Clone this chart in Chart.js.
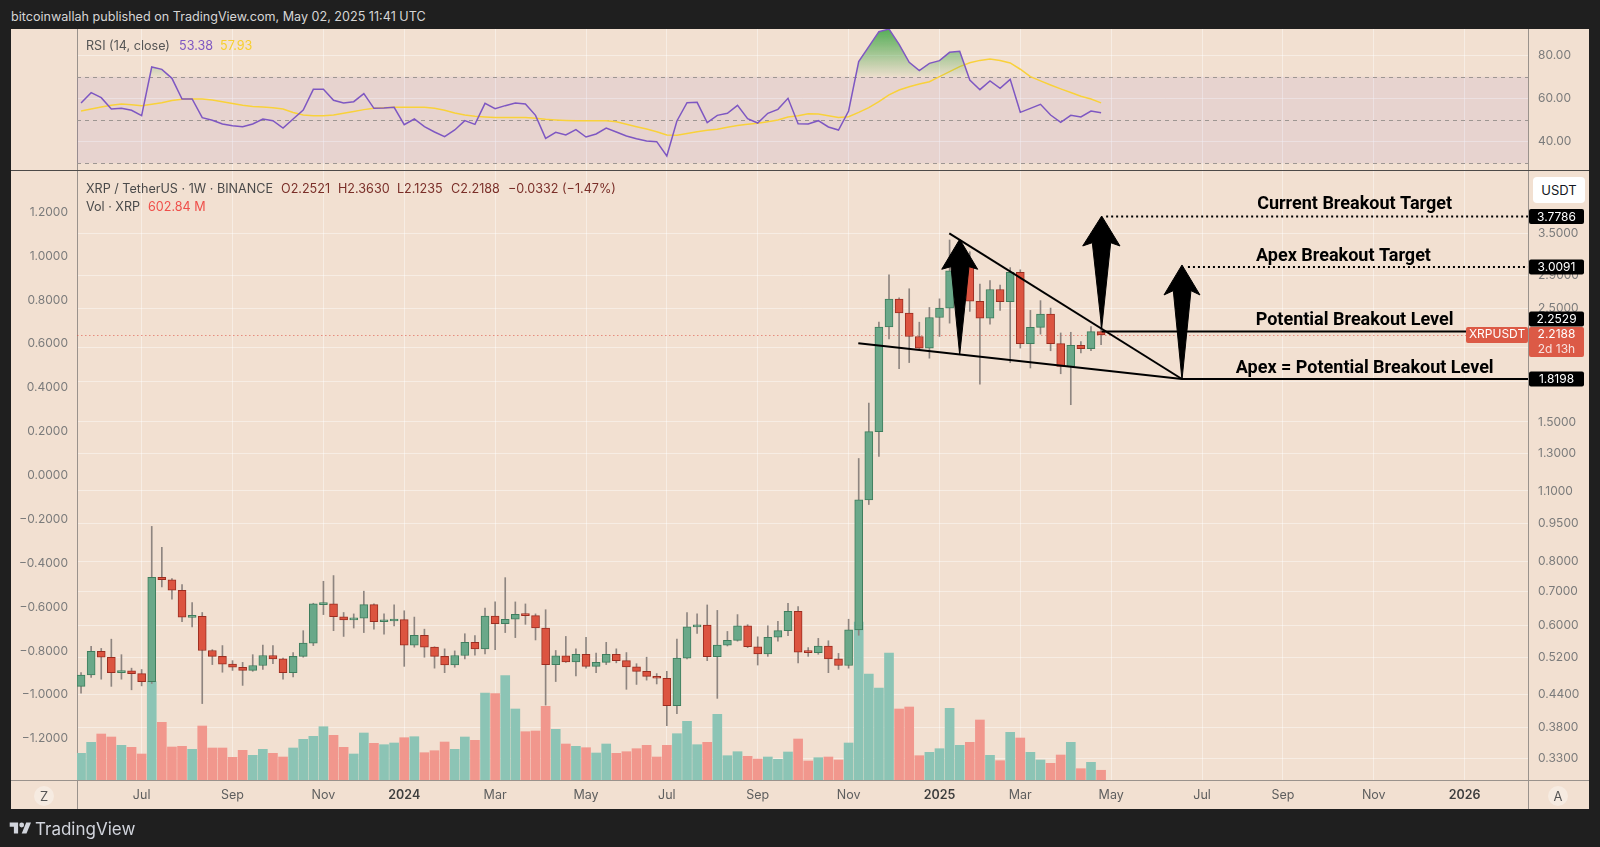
<!DOCTYPE html>
<html>
<head>
<meta charset="utf-8">
<title>XRP / TetherUS · 1W · BINANCE</title>
<script src="https://cdn.jsdelivr.net/npm/chart.js@4.4.1/dist/chart.umd.min.js"></script>
<style>
  html, body { margin:0; padding:0; }
  body { width:1600px; height:847px; background:#1f1f1f; position:relative; overflow:hidden;
         font-family: Inter, "Noto Sans", sans-serif; }
  .abs { position:absolute; white-space:nowrap; }
  #frame { left:11px; top:29px; width:1578px; height:780px; background:#f2e0d1; }
  #hdr { left:11px; top:9px; font-size:12.6px; line-height:16px; color:#d6d6d6; }
  canvas { position:absolute; }
  .leg { font-size:12.6px; line-height:16px; }
  .g { color:#4a4a4a; }
  .m { color:#7a2e28; }
  #sep { left:11px; top:170px; width:1578px; height:1px; background:#4d4a48; }
  .ln { background:#9a928c; }
  .btn { width:20px; height:20px; border-radius:50%; background:rgba(255,255,255,0.35);
         color:#555; font-size:13px; line-height:20px; text-align:center; }
  #usdt { left:1533px; top:177px; width:52px; height:26px; border-radius:4px; background:#fff;
          color:#131722; font-size:13px; line-height:26px; text-align:center; }
  #foot { left:35px; top:819px; font-size:17px; line-height:20px; color:#d1d4dc; }
</style>
</head>
<body>
<div id="hdr" class="abs">bitcoinwallah published on TradingView.com, May 02, 2025 11:41 UTC</div>
<div id="frame" class="abs"></div>
<canvas id="rsi" width="1578" height="141" style="left:11px;top:29px;width:1578px;height:141px"></canvas>
<div id="sep" class="abs"></div>
<canvas id="main" width="1578" height="638" style="left:11px;top:171px;width:1578px;height:638px"></canvas>

<div class="abs ln" style="left:11px;top:780px;width:1578px;height:1px"></div>
<div class="abs ln" style="left:77px;top:780px;width:1px;height:29px"></div>
<div class="abs ln" style="left:1528px;top:780px;width:1px;height:29px"></div>

<div class="abs leg" style="left:86px;top:38px;color:#555">RSI (14, close)</div>
<div class="abs leg" style="left:179px;top:38px;color:#7e57c2">53.38</div>
<div class="abs leg" style="left:220px;top:38px;color:#f7cf2f">57.93</div>

<div class="abs leg g" style="left:86px;top:181px">XRP / TetherUS · 1W · BINANCE</div>
<div class="abs leg m" style="left:281px;top:181px">O2.2521</div>
<div class="abs leg m" style="left:338px;top:181px">H2.3630</div>
<div class="abs leg m" style="left:397px;top:181px">L2.1235</div>
<div class="abs leg m" style="left:451px;top:181px">C2.2188</div>
<div class="abs leg m" style="left:508px;top:181px">−0.0332 (−1.47%)</div>
<div class="abs leg g" style="left:86px;top:199px">Vol · XRP</div>
<div class="abs leg" style="left:148px;top:199px;color:#ef4f4a">602.84 M</div>

<div id="usdt" class="abs">USDT</div>
<div class="abs btn" style="left:34px;top:786px">Z</div>
<div class="abs btn" style="left:1548px;top:786px">A</div>

<svg class="abs" style="left:9px;top:822px" width="23" height="12" viewBox="0 0 36 20">
  <path d="M14 19H7V8H0V1h14v18z" fill="#d1d4dc"/>
  <circle cx="20" cy="5" r="4" fill="#d1d4dc"/>
  <path d="M28 19h-8l7.5-18h8L28 19z" fill="#d1d4dc"/>
</svg>
<div id="foot" class="abs">TradingView</div>

<script>
// ---------------- data (weekly candles; week 0 = week of 3 Jul 2023) ----------------
const FIRST_WEEK = -6;
const OPEN = [0.457,0.481,0.535,0.521,0.486,0.490,0.484,0.467,0.746,0.738,
  0.704,0.623,0.626,0.537,0.523,0.505,0.498,0.491,0.502,0.525,
  0.517,0.486,0.523,0.555,0.660,0.662,0.625,0.616,0.621,0.660,
  0.611,0.613,0.617,0.550,0.575,0.545,0.523,0.503,0.525,0.557,
  0.541,0.627,0.606,0.618,0.632,0.628,0.594,0.504,0.524,0.510,
  0.528,0.500,0.509,0.528,0.513,0.499,0.489,0.478,0.474,0.419,
  0.519,0.597,0.602,0.522,0.550,0.562,0.600,0.546,0.529,0.570,
  0.587,0.640,0.533,0.532,0.548,0.517,0.502,0.589,1.057,1.436,
  2.299,2.605,2.448,2.203,2.091,2.399,2.503,2.960,3.018,2.581,
  2.392,2.721,2.577,2.938,2.134,2.295,2.436,2.134,1.925,2.116,
  2.085,2.2521];
const HIGH = [0.486,0.547,0.542,0.565,0.527,0.496,0.493,0.938,0.854,0.742,
  0.722,0.666,0.637,0.539,0.549,0.513,0.509,0.527,0.550,0.549,
  0.519,0.532,0.587,0.664,0.733,0.752,0.637,0.633,0.701,0.662,
  0.633,0.659,0.642,0.624,0.591,0.546,0.541,0.536,0.579,0.574,
  0.650,0.668,0.745,0.668,0.662,0.633,0.645,0.537,0.572,0.541,
  0.570,0.531,0.557,0.541,0.532,0.506,0.521,0.484,0.489,0.565,
  0.637,0.633,0.659,0.643,0.585,0.631,0.603,0.571,0.600,0.612,
  0.664,0.654,0.544,0.567,0.561,0.530,0.618,1.273,1.633,2.349,
  2.907,2.620,2.730,2.349,2.510,2.609,3.399,3.399,3.224,2.789,
  2.831,2.775,3.002,2.973,2.477,2.588,2.503,2.238,2.245,2.154,
  2.304,2.3630];
const LOW = [0.443,0.476,0.472,0.457,0.472,0.450,0.458,0.463,0.715,0.676,
  0.611,0.597,0.423,0.504,0.487,0.491,0.459,0.489,0.493,0.506,
  0.472,0.477,0.521,0.549,0.631,0.587,0.572,0.594,0.582,0.591,
  0.578,0.600,0.500,0.545,0.521,0.496,0.486,0.498,0.517,0.526,
  0.529,0.539,0.582,0.569,0.604,0.563,0.420,0.467,0.509,0.479,
  0.496,0.486,0.504,0.508,0.451,0.461,0.470,0.462,0.383,0.404,
  0.517,0.580,0.513,0.433,0.548,0.560,0.544,0.503,0.523,0.560,
  0.574,0.508,0.523,0.528,0.486,0.493,0.496,0.575,1.035,1.285,
  2.179,1.906,1.959,2.085,1.998,2.203,2.339,2.916,2.466,1.778,
  2.328,2.477,1.959,2.091,1.912,2.226,2.066,1.863,1.621,2.045,
  2.066,2.1235];
const CLOSE = [0.481,0.535,0.521,0.486,0.490,0.484,0.467,0.746,0.738,0.704,
  0.624,0.626,0.537,0.523,0.505,0.498,0.491,0.502,0.525,0.517,
  0.486,0.523,0.555,0.662,0.662,0.625,0.616,0.621,0.660,0.611,
  0.613,0.617,0.550,0.575,0.545,0.523,0.503,0.525,0.557,0.541,
  0.627,0.606,0.618,0.632,0.628,0.594,0.504,0.524,0.510,0.528,
  0.500,0.509,0.528,0.513,0.499,0.489,0.478,0.474,0.419,0.519,
  0.597,0.602,0.522,0.550,0.562,0.600,0.546,0.529,0.570,0.587,
  0.640,0.533,0.532,0.548,0.517,0.502,0.589,1.057,1.436,2.299,
  2.605,2.448,2.203,2.091,2.399,2.503,2.960,3.018,2.581,2.392,
  2.721,2.577,2.938,2.134,2.295,2.436,2.134,1.925,2.116,2.085,
  2.251,2.2188];
const VOLUME_M = [1655,2337,2852,2666,2151,2027,1612,6095,3577,2046,
  2089,1903,3348,1984,1984,1407,1841,1531,1903,1655,
  1426,1984,2523,2709,3305,2771,2027,1612,2914,2275,
  2189,2294,2623,2685,1693,1817,2356,1903,2666,2461,
  5394,5351,6467,4402,2995,3038,4569,3143,2232,2089,
  2003,1674,2232,1655,1755,1941,2151,1426,2151,2871,
  3639,2189,2337,4073,1507,1755,1469,1302,1426,1283,
  1736,2542,1178,1383,1426,1240,2294,9796,6572,5704,
  7874,4402,4526,1507,1717,1941,4445,2151,2337,3720,
  1531,1197,2957,2604,1717,1240,1035,1550,2337,701,
  1097,602.84];
const RSI = [57.9,62.65,60.34,55.09,55.40,54.48,52.0,74.54,73.46,69.29,
  59.72,59.72,51.08,49.85,48.15,47.38,46.91,48.15,50.46,49.69,
  46.30,50.46,54.63,64.20,64.20,59.10,57.87,58.49,62.19,55.40,
  55.56,55.86,47.84,50.46,46.91,44.44,42.28,45.37,49.69,47.99,
  57.72,55.25,56.64,57.87,57.41,52.16,41.51,44.29,43.06,45.52,
  42.13,43.52,46.30,44.44,42.59,41.36,40.28,39.97,33.33,49.54,
  58.02,58.18,48.77,52.16,53.09,56.79,50.62,48.61,53.09,54.94,
  60.03,48.30,48.15,49.69,46.76,45.37,54.17,77.01,83.95,90.9,
  92.1,85.03,76.70,72.84,76.23,77.47,81.33,81.79,68.52,64.04,
  68.06,64.66,68.83,53.55,55.40,57.25,52.31,48.92,52.16,51.39,
  54.17,53.38];
const RSI_MA = [54.2,55.1,56.0,56.8,57.4,57.1,56.6,57.3,58.0,59.0,
  59.6,59.7,59.7,59.3,58.5,57.6,56.8,56.3,56.0,55.7,
  55.1,53.5,52.3,52.0,52.0,52.3,53.1,53.9,54.8,55.4,
  55.7,55.9,55.9,55.9,55.9,55.4,54.5,53.2,52.3,51.7,
  51.4,51.2,51.1,51.1,51.1,50.8,50.3,50.0,49.8,49.7,
  49.7,49.7,49.7,49.2,48.0,46.9,45.8,44.6,43.1,42.9,
  43.7,44.6,45.2,45.7,46.6,47.5,48.0,48.5,49.2,50.0,
  51.4,52.0,52.9,52.8,52.0,51.2,51.5,53.5,55.7,58.5,
  61.6,63.9,65.4,66.7,67.7,70.1,72.4,74.7,76.5,77.6,
  78.2,77.5,76.4,73.5,70.1,68.1,66.2,64.4,62.7,61.0,
  59.7,57.93];

// axes / ticks
const TIME_TICKS  = [0, 9, 18, 26, 35, 44, 52, 61, 70, 79, 87, 96, 105, 113, 122, 131];
const TIME_LABELS = ['Jul','Sep','Nov','2024','Mar','May','Jul','Sep','Nov','2025','Mar','May','Jul','Sep','Nov','2026'];
const PRICE_TICKS = [3.5, 2.9, 2.5, 2.1, 1.8, 1.5, 1.3, 1.1, 0.95, 0.8, 0.7, 0.6, 0.52, 0.44, 0.38, 0.33];
const LEFT_TICKS  = [1.2, 1.0, 0.8, 0.6, 0.4, 0.2, 0, -0.2, -0.4, -0.6, -0.8, -1.0, -1.2];
const RSI_TICKS   = [80, 60, 40];
const RSI_LEVELS  = [70, 50, 30];
const VIEW = { xMin:-6.4, xMax:137.27, pMin:0.3002, pMax:4.635, rsiMin:26.85, rsiMax:92.13,
               leftMin:-1.388, leftMax:1.388, volMax:37760 };

// drawings (week index, price)
const LOWER_TREND_X = [70.96, 103.0],  LOWER_TREND_P = [2.137, 1.8198];
const UPPER_TREND_X = [79.97, 103.0],  UPPER_TREND_P = [3.503, 1.8198];
const POTENTIAL_X = [95.06, VIEW.xMax], POTENTIAL_P = [2.2529, 2.2529];
const APEX_X      = [103.0, VIEW.xMax], APEX_P      = [1.8198, 1.8198];
const CUR_TGT_X   = [95.5, VIEW.xMax],  CUR_TGT_P   = [3.7786, 3.7786];
const APEX_TGT_X  = [103.6, VIEW.xMax], APEX_TGT_P  = [3.0091, 3.0091];
const ARROW_A_X = [81.0, 82.78, 81.92, 81.0, 80.14, 79.22, 81.0];
const ARROW_A_P = [3.410, 2.980, 3.015, 2.027, 3.015, 2.980, 3.410];
const ARROW_B_X = [95.06, 96.87, 95.95, 95.06, 94.13, 93.18, 95.06];
const ARROW_B_P = [3.786, 3.309, 3.358, 2.286, 3.358, 3.309, 3.786];
const ARROW_C_X = [103.01, 104.79, 103.9, 103.01, 102.15, 101.23, 103.01];
const ARROW_C_P = [3.038, 2.655, 2.707, 1.812, 2.707, 2.655, 3.038];
const ANNOT_TEXT = ['Current Breakout Target','Apex Breakout Target','Potential Breakout Level','Apex = Potential Breakout Level'];
const ANNOT_W = [120.1, 119.0, 120.1, 121.1];
const ANNOT_P = [3.984, 3.149, 2.370, 1.909];
const AXIS_MARKS = [3.7786, 3.0091, 2.2529, 1.8198];
const LAST_CLOSE = 2.2188;
const COUNTDOWN = '2d 13h';

// ---------------- styling ----------------
const GRID = 'rgba(255,255,255,0.42)';
const BORDER = '#9a928c';
const AXIS_TEXT = '#7b7b7b';
const UP_BODY = '#6aa889', UP_EDGE = '#3e7d5d', DN_BODY = '#dc5440', DN_EDGE = '#9b2d20';
const WICK = '#8e8580', VOL_UP = '#8cc4b5', VOL_DN = '#f1978d';
const INK = '#000000', PRICE_RED = '#dc5a46';
const LEFT_W = 66, RIGHT_W = 61, AXIS_H = 29;

Chart.defaults.font.family = 'Inter, "Noto Sans", sans-serif';
Chart.defaults.font.size = 12;

const weeks = OPEN.map((_, i) => FIRST_WEEK + i);
const isUp = OPEN.map((o, i) => CLOSE[i] >= o);
const pts = (xs, ys) => xs.map((x, i) => ({ x, y: ys[i] }));
const noPad = s => { s.paddingTop = 0; s.paddingBottom = 0; s.paddingLeft = 0; s.paddingRight = 0; };

const timeAxis = extra => Object.assign({
  type: 'linear', min: VIEW.xMin, max: VIEW.xMax, offset: false,
  afterBuildTicks: s => { s.ticks = TIME_TICKS.map(v => ({ value: v })); },
  grid: { color: GRID, drawTicks: false, offset: false },
  border: { display: false }
}, extra);

// ---------------- RSI pane ----------------
const rsiBands = {
  id: 'rsiBands',
  beforeDatasetsDraw(chart) {
    const { ctx, chartArea: a, scales: { y } } = chart;
    const y70 = y.getPixelForValue(RSI_LEVELS[0]), y30 = y.getPixelForValue(RSI_LEVELS[2]);
    ctx.save();
    ctx.fillStyle = 'rgba(126,87,194,0.09)';
    ctx.fillRect(a.left, y70, a.right - a.left, y30 - y70);
    ctx.strokeStyle = '#9d9692';
    ctx.lineWidth = 1;
    ctx.setLineDash([4, 4]);
    RSI_LEVELS.forEach(v => {
      const yy = Math.round(y.getPixelForValue(v)) + 0.5;
      ctx.beginPath(); ctx.moveTo(a.left, yy); ctx.lineTo(a.right, yy); ctx.stroke();
    });
    ctx.restore();
  }
};

new Chart(document.getElementById('rsi'), {
  type: 'line',
  data: { datasets: [
    { label: 'RSI', yAxisID: 'y', data: pts(weeks, RSI), borderColor: '#7e57c2', borderWidth: 1.5,
      pointRadius: 0, tension: 0, order: 1,
      fill: { target: { value: RSI_LEVELS[0] }, below: 'rgba(0,0,0,0)' },
      backgroundColor: c => {
        const { chart } = c; const area = chart.chartArea; const y = chart.scales.y;
        if (!area || !y) return 'rgba(76,175,80,0.5)';
        const g = chart.ctx.createLinearGradient(0, area.top, 0, y.getPixelForValue(RSI_LEVELS[0]));
        g.addColorStop(0, 'rgba(76,170,80,0.95)');
        g.addColorStop(1, 'rgba(76,170,80,0.04)');
        return g;
      } },
    { label: 'RSI MA', yAxisID: 'y', data: pts(weeks, RSI_MA), borderColor: '#f9d13a', borderWidth: 1.5,
      pointRadius: 0, tension: 0, fill: false, order: 2 }
  ]},
  options: {
    responsive: false, animation: false, devicePixelRatio: 1,
    layout: { padding: 0, autoPadding: false },
    plugins: { legend: { display: false }, tooltip: { enabled: false } },
    scales: {
      x: timeAxis({ ticks: { display: false }, afterFit: s => { s.height = 0; noPad(s); } }),
      yL: { type: 'linear', position: 'left', min: 0, max: 1, ticks: { display: false },
            grid: { display: false, drawTicks: false }, border: { color: BORDER },
            afterFit: s => { s.width = LEFT_W; noPad(s); } },
      y: { type: 'linear', position: 'right', min: VIEW.rsiMin, max: VIEW.rsiMax,
           afterBuildTicks: s => { s.ticks = RSI_TICKS.map(v => ({ value: v })); },
           afterFit: s => { s.width = RIGHT_W; noPad(s); },
           grid: { color: GRID, drawTicks: false }, border: { color: BORDER },
           ticks: { padding: 10, color: AXIS_TEXT, crossAlign: 'near', callback: v => Number(v).toFixed(2) } }
    }
  },
  plugins: [rsiBands]
});

// ---------------- price pane ----------------
function rrect(ctx, x, y, w, h, r) {
  ctx.beginPath();
  if (ctx.roundRect) ctx.roundRect(x, y, w, h, r); else ctx.rect(x, y, w, h);
  ctx.fill();
}
const overlay = {
  id: 'overlay',
  beforeDatasetsDraw(chart) {
    const { ctx, chartArea: a, scales: { y } } = chart;
    const yy = Math.round(y.getPixelForValue(LAST_CLOSE)) + 0.5;
    ctx.save();
    ctx.strokeStyle = 'rgba(222,84,70,0.6)'; ctx.lineWidth = 1; ctx.setLineDash([1.5, 2.5]);
    ctx.beginPath(); ctx.moveTo(a.left, yy); ctx.lineTo(a.right, yy); ctx.stroke();
    ctx.restore();
  },
  afterDatasetsDraw(chart) {
    const { ctx, scales: { x, y } } = chart;
    ctx.save();
    ctx.font = 'bold 18px Roboto, Inter, sans-serif';
    ctx.fillStyle = INK; ctx.textAlign = 'center'; ctx.textBaseline = 'middle';
    ANNOT_TEXT.forEach((t, i) => ctx.fillText(t, x.getPixelForValue(ANNOT_W[i]), y.getPixelForValue(ANNOT_P[i])));
    ctx.restore();
  },
  afterDraw(chart) {
    const { ctx, chartArea: a, scales: { y } } = chart;
    const r = a.right;
    const yC = y.getPixelForValue(LAST_CLOSE);
    const redTop = yC - 8, redH = 30;
    ctx.save();
    ctx.textAlign = 'center'; ctx.textBaseline = 'middle';
    ctx.fillStyle = PRICE_RED; rrect(ctx, r - 62, redTop, 62, 16, 2);
    ctx.fillStyle = '#fff'; ctx.font = '12px Inter, sans-serif';
    ctx.fillText('XRPUSDT', r - 31, yC);
    ctx.fillStyle = PRICE_RED; rrect(ctx, r + 1, redTop, 55, redH, 2);
    ctx.fillStyle = '#fff'; ctx.fillText(LAST_CLOSE.toFixed(4), r + 28.5, yC);
    ctx.fillStyle = 'rgba(255,255,255,0.82)'; ctx.fillText(COUNTDOWN, r + 28.5, yC + 14.5);
    AXIS_MARKS.forEach(v => {
      let yc = y.getPixelForValue(v);
      if (yc < yC && yc + 7.5 > redTop) yc = redTop - 8;
      ctx.fillStyle = '#000'; rrect(ctx, r + 1, yc - 7.5, 55, 15, 2);
      ctx.fillStyle = '#fff'; ctx.fillText(v.toFixed(4), r + 28.5, yc + 0.5);
    });
    ctx.restore();
  }
};

const lineDs = (xs, ps, extra) => Object.assign({
  type: 'line', yAxisID: 'y', data: pts(xs, ps), borderColor: INK, borderWidth: 2,
  pointRadius: 0, tension: 0, fill: false, order: 5
}, extra);

new Chart(document.getElementById('main'), {
  type: 'bar',
  data: { datasets: [
    { type: 'bar', label: 'Volume', yAxisID: 'yVol', data: pts(weeks, VOLUME_M),
      backgroundColor: isUp.map(u => u ? VOL_UP : VOL_DN), barThickness: 9, grouped: false, order: 20 },
    { type: 'bar', label: 'Wick', yAxisID: 'y', data: weeks.map((w, i) => ({ x: w, y: [LOW[i], HIGH[i]] })),
      backgroundColor: WICK, barThickness: 1, grouped: false, order: 19 },
    { type: 'bar', label: 'Body', yAxisID: 'y', data: weeks.map((w, i) => ({ x: w, y: [OPEN[i], CLOSE[i]] })),
      backgroundColor: isUp.map(u => u ? UP_BODY : DN_BODY), borderColor: isUp.map(u => u ? UP_EDGE : DN_EDGE),
      borderWidth: 1, borderSkipped: false, barThickness: 8, minBarLength: 2, grouped: false, order: 18 },
    lineDs(LOWER_TREND_X, LOWER_TREND_P),
    lineDs(UPPER_TREND_X, UPPER_TREND_P),
    lineDs(POTENTIAL_X, POTENTIAL_P),
    lineDs(APEX_X, APEX_P),
    lineDs(CUR_TGT_X, CUR_TGT_P, { borderDash: [2, 3] }),
    lineDs(APEX_TGT_X, APEX_TGT_P, { borderDash: [2, 3] }),
    lineDs(ARROW_A_X, ARROW_A_P, { fill: 'shape', backgroundColor: INK, borderWidth: 1, order: 4 }),
    lineDs(ARROW_B_X, ARROW_B_P, { fill: 'shape', backgroundColor: INK, borderWidth: 1, order: 4 }),
    lineDs(ARROW_C_X, ARROW_C_P, { fill: 'shape', backgroundColor: INK, borderWidth: 1, order: 4 })
  ]},
  options: {
    responsive: false, animation: false, devicePixelRatio: 1,
    layout: { padding: 0, autoPadding: false },
    plugins: { legend: { display: false }, tooltip: { enabled: false } },
    scales: {
      x: timeAxis({
        afterFit: s => { s.height = AXIS_H; noPad(s); },
        ticks: { autoSkip: false, maxRotation: 0, padding: 8,
                 color: c => /^\d{4}$/.test(TIME_LABELS[c.index]) ? '#3e3e3e' : '#5e5e5e',
                 font: c => ({ size: 12.5, weight: /^\d{4}$/.test(TIME_LABELS[c.index]) ? '600' : '400' }),
                 callback: (v, i) => TIME_LABELS[i] }
      }),
      yL: { type: 'linear', position: 'left', min: VIEW.leftMin, max: VIEW.leftMax,
            afterBuildTicks: s => { s.ticks = LEFT_TICKS.map(v => ({ value: v })); },
            afterFit: s => { s.width = LEFT_W; noPad(s); },
            grid: { display: false, drawTicks: false }, border: { color: BORDER },
            ticks: { padding: 9, color: AXIS_TEXT,
                     callback: v => (v < 0 ? '\u2212' : '') + Math.abs(v).toFixed(4) } },
      y: { type: 'logarithmic', position: 'right', min: VIEW.pMin, max: VIEW.pMax,
           afterBuildTicks: s => { s.ticks = PRICE_TICKS.map(v => ({ value: v })); },
           afterFit: s => { s.width = RIGHT_W; noPad(s); },
           grid: { color: GRID, drawTicks: false }, border: { color: BORDER },
           ticks: { padding: 10, color: AXIS_TEXT, crossAlign: 'near', callback: v => Number(v).toFixed(4) } },
      yVol: { type: 'linear', display: false, min: 0, max: VIEW.volMax }
    }
  },
  plugins: [overlay]
});
</script>
</body>
</html>
